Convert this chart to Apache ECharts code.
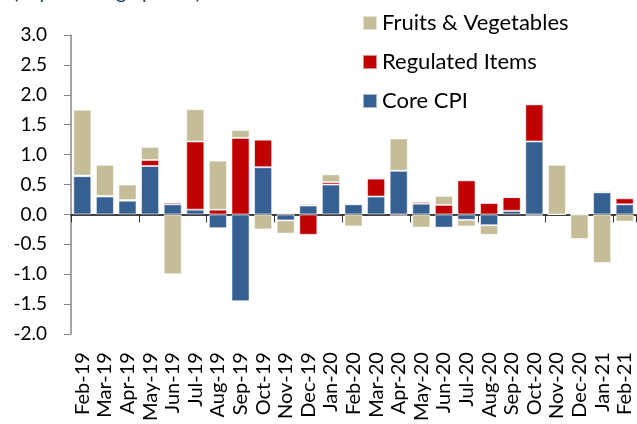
<!DOCTYPE html>
<html>
<head>
<meta charset="utf-8">
<script src="https://cdn.jsdelivr.net/npm/echarts@6/dist/echarts.min.js"></script>
<style>
  html, body { margin: 0; padding: 0; background: #fff; }
  #chart { width: 637px; height: 424px; }
</style>
</head>
<body>
<div id="chart"></div>
<script>
// monthly contributions, percentage points
var months = ['Feb-19', 'Mar-19', 'Apr-19', 'May-19', 'Jun-19', 'Jul-19', 'Aug-19', 'Sep-19', 'Oct-19', 'Nov-19',
  'Dec-19', 'Jan-20', 'Feb-20', 'Mar-20', 'Apr-20', 'May-20', 'Jun-20', 'Jul-20', 'Aug-20', 'Sep-20',
  'Oct-20', 'Nov-20', 'Dec-20', 'Jan-21', 'Feb-21'];

var coreCpi = [0.64, 0.30, 0.23, 0.81, 0.17, 0.08, -0.23, -1.45, 0.79, -0.10,
  0.15, 0.50, 0.17, 0.30, 0.73, 0.18, -0.22, -0.09, -0.18, 0.06,
  1.22, 0, 0, 0.37, 0.17];

var regulated = [0.01, 0.01, 0.01, 0.10, 0.03, 1.14, 0.08, 1.28, 0.46, 0.02,
  -0.34, 0.04, 0.01, 0.30, -0.02, 0.03, 0.16, 0.57, 0.19, 0.23,
  0.62, 0, 0, 0.02, 0.10];

var fruitsVeg = [1.10, 0.52, 0.26, 0.22, -1.00, 0.54, 0.82, 0.13, -0.25, -0.22,
  0.03, 0.13, -0.20, 0, 0.54, -0.22, 0.15, -0.11, -0.16, 0,
  -0.02, 0.83, -0.41, -0.81, -0.12];

var yTicks = { min: -2, max: 3, interval: 0.5 };

var FONT = 'Lato';

var chart = echarts.init(document.getElementById('chart'));

function barSeries(name, data, color) {
  return {
    name: name,
    type: 'bar',
    stack: 'total',
    data: data,
    barCategoryGap: '20%',
    itemStyle: {
      color: color,
      borderColor: 'rgba(255,255,255,0.55)',
      borderWidth: 1
    }
  };
}

chart.setOption({
  animation: false,
  textStyle: { fontFamily: FONT },
  title: {
    text: '(in percentage points)',
    left: 8,
    top: -22,
    textStyle: { fontFamily: FONT, fontSize: 20, fontWeight: 'normal', color: '#1f3c64' }
  },
  legend: {
    orient: 'vertical',
    left: 357,
    top: 5,
    itemWidth: 14,
    itemHeight: 14,
    itemGap: 13,
    icon: 'rect',
    data: ['Fruits & Vegetables', 'Regulated Items', 'Core CPI'],
    textStyle: { fontFamily: FONT, fontSize: 22, color: '#000', lineHeight: 26 }
  },
  grid: { left: 71, right: 1, top: 35, bottom: 84 },
  xAxis: [{
    type: 'category',
    data: months,
    axisLine: { onZero: true, lineStyle: { color: '#000', width: 1.5 } },
    axisTick: { show: true, length: 8, lineStyle: { color: '#333' } },
    axisLabel: { show: false }
  }, {
    type: 'category',
    data: months,
    position: 'bottom',
    axisLine: { show: false, onZero: false },
    axisTick: { show: false },
    axisLabel: { rotate: 90, margin: 18, fontFamily: FONT, fontSize: 20, color: '#000', interval: 0 }
  }],
  yAxis: {
    type: 'value',
    min: yTicks.min,
    max: yTicks.max,
    interval: yTicks.interval,
    axisLine: { show: true, lineStyle: { color: '#868686', width: 1.5 } },
    axisTick: { show: true, length: 7, lineStyle: { color: '#868686' } },
    splitLine: { show: false },
    axisLabel: {
      margin: 24,
      fontFamily: FONT,
      fontSize: 19,
      color: '#000',
      formatter: function (v) { return v.toFixed(1); }
    }
  },
  series: [
    barSeries('Core CPI', coreCpi, '#376092'),
    barSeries('Regulated Items', regulated, '#c00000'),
    barSeries('Fruits & Vegetables', fruitsVeg, '#c4bd97')
  ]
});
</script>
</body>
</html>
